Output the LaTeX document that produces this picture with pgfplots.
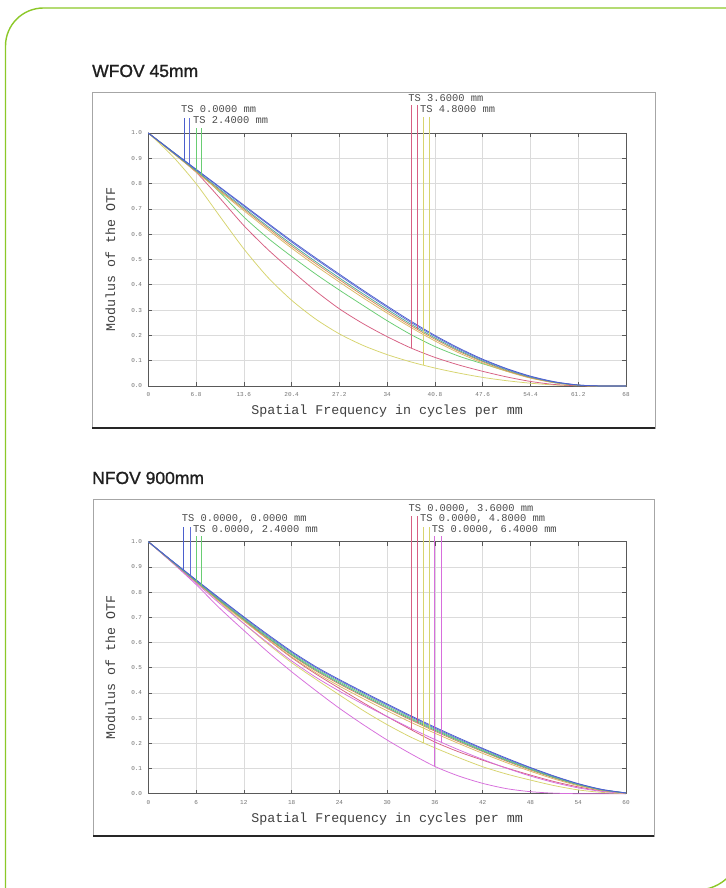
\documentclass[border=0pt]{standalone}
\usepackage{fontspec}
\setmainfont{Liberation Sans}
\setsansfont{Liberation Sans}
\setmonofont{Liberation Mono}
\newfontfamily\titlefont[FakeBold=1.1]{Liberation Sans}
\usepackage{pgfplots}
\usepackage{pgfplotstable}
\pgfplotsset{compat=1.18}

\definecolor{zblue}{RGB}{75,95,205}
\definecolor{zbluetwo}{RGB}{95,110,215}
\definecolor{zgreen}{RGB}{105,205,115}
\definecolor{zgreentwo}{RGB}{80,170,150}
\definecolor{zred}{RGB}{215,95,130}
\definecolor{zredtwo}{RGB}{215,140,90}
\definecolor{zyellow}{RGB}{215,212,110}
\definecolor{zyellowtwo}{RGB}{220,185,100}
\definecolor{zmag}{RGB}{215,110,220}
\definecolor{framegreen}{RGB}{140,200,40}

\pgfplotstableread{
x    bT    bS    gT    gS    rT    rS    yT    yS
0    1.000 1.000 1.000 1.000 1.000 1.000 1.000 1.000
3.4  0.928 0.927 0.928 0.925 0.926 0.924 0.910 0.923
6.8  0.857 0.855 0.853 0.851 0.845 0.849 0.800 0.846
10.2 0.786 0.783 0.765 0.777 0.742 0.773 0.670 0.769
13.6 0.715 0.711 0.668 0.704 0.634 0.699 0.542 0.693
17   0.644 0.640 0.585 0.631 0.540 0.625 0.430 0.618
20.4 0.574 0.569 0.512 0.560 0.456 0.553 0.339 0.545
23.8 0.507 0.502 0.443 0.492 0.376 0.485 0.265 0.476
27.2 0.442 0.437 0.379 0.427 0.305 0.420 0.206 0.411
30.6 0.378 0.373 0.318 0.364 0.246 0.357 0.160 0.348
34   0.316 0.311 0.258 0.303 0.195 0.296 0.124 0.288
37.4 0.256 0.251 0.203 0.244 0.150 0.238 0.095 0.231
40.8 0.200 0.196 0.156 0.190 0.113 0.185 0.071 0.178
44.2 0.150 0.146 0.118 0.141 0.083 0.137 0.051 0.131
47.6 0.106 0.103 0.088 0.099 0.058 0.096 0.034 0.091
51   0.069 0.067 0.059 0.064 0.036 0.061 0.021 0.058
54.4 0.039 0.037 0.033 0.035 0.018 0.033 0.011 0.031
57.8 0.017 0.016 0.013 0.015 0.006 0.014 0.004 0.013
61.2 0.004 0.004 0.003 0.003 0.001 0.003 0.001 0.003
64.6 0     0     0     0     0     0     0     0
68   0     0     0     0     0     0     0     0
}\wfov

\pgfplotstableread{
x  bT    bS    gT    gS    rT    rS    yT    yS    mT    mS
0  1.000 1.000 1.000 1.000 1.000 1.000 1.000 1.000 1.000 1.000
3  0.924 0.923 0.922 0.921 0.922 0.920 0.921 0.920 0.917 0.918
6  0.849 0.847 0.845 0.843 0.845 0.841 0.843 0.840 0.830 0.836
9  0.775 0.772 0.769 0.766 0.767 0.764 0.760 0.761 0.735 0.754
12 0.702 0.699 0.695 0.692 0.690 0.689 0.675 0.685 0.648 0.675
15 0.632 0.628 0.624 0.620 0.612 0.617 0.595 0.612 0.563 0.599
18 0.565 0.561 0.556 0.552 0.540 0.549 0.520 0.543 0.484 0.527
21 0.505 0.501 0.496 0.492 0.476 0.488 0.455 0.481 0.410 0.463
24 0.453 0.449 0.444 0.439 0.418 0.435 0.392 0.427 0.339 0.407
27 0.404 0.400 0.395 0.390 0.361 0.386 0.330 0.377 0.274 0.355
30 0.356 0.352 0.347 0.342 0.306 0.338 0.274 0.329 0.213 0.306
33 0.309 0.305 0.300 0.296 0.254 0.292 0.224 0.283 0.158 0.259
36 0.264 0.260 0.256 0.252 0.205 0.248 0.182 0.240 0.108 0.215
39 0.221 0.217 0.213 0.210 0.166 0.206 0.143 0.199 0.070 0.174
42 0.180 0.177 0.173 0.170 0.133 0.167 0.107 0.160 0.041 0.136
45 0.141 0.138 0.135 0.132 0.102 0.129 0.078 0.123 0.020 0.101
48 0.104 0.102 0.099 0.097 0.074 0.094 0.054 0.089 0.008 0.070
51 0.070 0.068 0.066 0.064 0.048 0.062 0.032 0.058 0.002 0.044
54 0.040 0.039 0.037 0.036 0.027 0.035 0.015 0.032 0.000 0.023
57 0.017 0.016 0.015 0.015 0.011 0.014 0.005 0.013 0.000 0.009
60 0.003 0.003 0.003 0.003 0.003 0.003 0.000 0.002 0.000 0.001
}\nfov

\tikzset{
  lbl/.style={anchor=base west, inner sep=0pt, font=\fontsize{10.4}{10.4}\selectfont\ttfamily, text=black!70},
}
\pgfplotsset{
  mtf/.style={
    scale only axis,
    width=477.7pt, height=253pt,
    enlargelimits=false,
    ymin=0, ymax=1,
    ytick={0,0.1,0.2,0.3,0.4,0.5,0.6,0.7,0.8,0.9,1},
    yticklabels={0.0,0.1,0.2,0.3,0.4,0.5,0.6,0.7,0.8,0.9,1.0},
    grid=major,
    major grid style={gray!28, line width=0.6pt},
    axis line style={black!65, line width=0.7pt},
    tick align=inside,
    major tick length=4pt,
    tick style={black!65, line width=0.6pt},
    ticklabel style={font=\fontsize{6}{6}\selectfont\ttfamily, text=black!55, inner sep=0pt},
    xticklabel style={yshift=-6.5pt},
    yticklabel style={xshift=-6pt},
    every axis x label/.style={at={(axis description cs:0.5,0)}, yshift=-25.5pt, anchor=center,
      font=\fontsize{13.3}{13.3}\selectfont\ttfamily, text=black!75},
    every axis y label/.style={at={(axis description cs:0,0.5)}, xshift=-38pt, rotate=90, anchor=center,
      font=\fontsize{13.3}{13.3}\selectfont\ttfamily, text=black!75},
    xlabel={Spatial Frequency in cycles per mm},
    ylabel={Modulus of the OTF},
    clip=false,
    every axis plot/.append style={line width=0.75pt, smooth, tension=0.45},
  },
  drop/.style={line width=0.95pt, sharp plot},
}

\begin{document}
\begin{tikzpicture}
\useasboundingbox (0pt,0pt) rectangle (725pt,888pt);
\fill[white] (0pt,0pt) rectangle (725pt,888pt);

% green decorative frame
\draw[framegreen, line width=1.4pt] (5.5pt,-10pt) -- (5.5pt,842pt) arc[start angle=180, end angle=90, radius=38pt] -- (740pt,880pt);
\draw[framegreen, line width=1.4pt] (697pt,-2pt) arc[start angle=-90, end angle=0, radius=44pt];

% titles
\node[anchor=base west, inner sep=0pt, font=\fontsize{17.5}{17.5}\selectfont\titlefont, text=black!88] at (92pt,811pt) {WFOV 45mm};
\node[anchor=base west, inner sep=0pt, font=\fontsize{17.5}{17.5}\selectfont\titlefont, text=black!88] at (92pt,404pt) {NFOV 900mm};

% boxes
\draw[black!35, line width=0.9pt] (92pt,460pt) rectangle (655pt,796pt);
\draw[black!85, line width=1.2pt] (92pt,460pt) -- (655pt,460pt);
\draw[black!35, line width=0.9pt] (93pt,52pt) rectangle (654pt,389pt);
\draw[black!85, line width=1.2pt] (93pt,52pt) -- (654pt,52pt);

% ---------------- WFOV ----------------
\begin{axis}[mtf, at={(148.3pt,502pt)}, anchor=south west,
  xmin=0, xmax=68,
  xtick={0,6.8,13.6,20.4,27.2,34,40.8,47.6,54.4,61.2,68},
  xticklabels={0,6.8,13.6,20.4,27.2,34,40.8,47.6,54.4,61.2,68}]
\addplot[zyellow] table[x=x,y=yT] {\wfov};
\addplot[zred] table[x=x,y=rT] {\wfov};
\addplot[zgreen] table[x=x,y=gT] {\wfov};
\addplot[zyellowtwo] table[x=x,y=yS] {\wfov};
\addplot[zredtwo] table[x=x,y=rS] {\wfov};
\addplot[zgreentwo] table[x=x,y=gS] {\wfov};
\addplot[zbluetwo] table[x=x,y=bS] {\wfov};
\addplot[zblue] table[x=x,y=bT] {\wfov};
% legend drop lines
\addplot[zblue, drop] coordinates {(5.08,0.893) (5.08,1.059)};
\addplot[zbluetwo, drop] coordinates {(5.93,0.877) (5.93,1.059)};
\addplot[zgreen, drop] coordinates {(6.79,0.852) (6.79,1.020)};
\addplot[zgreen, drop] coordinates {(7.64,0.832) (7.64,1.020)};
\addplot[zred, drop] coordinates {(37.4,0.150) (37.4,1.111)};
\addplot[zred, drop] coordinates {(38.3,0.224) (38.3,1.111)};
\addplot[zyellow, drop] coordinates {(39.1,0.084) (39.1,1.064)};
\addplot[zyellow, drop] coordinates {(40.0,0.190) (40.0,1.064)};
\node[lbl] at (axis cs:4.65,1.080) {TS 0.0000 mm};
\node[lbl] at (axis cs:6.36,1.036) {TS 2.4000 mm};
\node[lbl] at (axis cs:37.0,1.124) {TS 3.6000 mm};
\node[lbl] at (axis cs:38.68,1.080) {TS 4.8000 mm};
\end{axis}

% ---------------- NFOV ----------------
\begin{axis}[mtf, at={(148.3pt,94.3pt)}, anchor=south west, height=252pt,
  xmin=0, xmax=60,
  xtick={0,6,12,18,24,30,36,42,48,54,60},
  xticklabels={0,6,12,18,24,30,36,42,48,54,60}]
\addplot[zmag] table[x=x,y=mT] {\nfov};
\addplot[zyellow] table[x=x,y=yT] {\nfov};
\addplot[zred] table[x=x,y=rT] {\nfov};
\addplot[zmag] table[x=x,y=mS] {\nfov};
\addplot[zyellowtwo] table[x=x,y=yS] {\nfov};
\addplot[zredtwo] table[x=x,y=rS] {\nfov};
\addplot[zgreentwo] table[x=x,y=gS] {\nfov};
\addplot[zgreen] table[x=x,y=gT] {\nfov};
\addplot[zbluetwo] table[x=x,y=bS] {\nfov};
\addplot[zblue] table[x=x,y=bT] {\nfov};
\addplot[zblue, drop] coordinates {(4.48,0.887) (4.48,1.060)};
\addplot[zbluetwo, drop] coordinates {(5.24,0.866) (5.24,1.060)};
\addplot[zgreen, drop] coordinates {(5.99,0.843) (5.99,1.023)};
\addplot[zgreen, drop] coordinates {(6.74,0.826) (6.74,1.023)};
\addplot[zred, drop] coordinates {(33.0,0.254) (33.0,1.100)};
\addplot[zred, drop] coordinates {(33.8,0.280) (33.8,1.100)};
\addplot[zyellow, drop] coordinates {(34.5,0.203) (34.5,1.060)};
\addplot[zyellow, drop] coordinates {(35.3,0.251) (35.3,1.060)};
\addplot[zmag, drop] coordinates {(36.0,0.108) (36.0,1.023)};
\addplot[zmag, drop] coordinates {(36.8,0.204) (36.8,1.023)};
\node[lbl] at (axis cs:4.19,1.079) {TS 0.0000, 0.0000 mm};
\node[lbl] at (axis cs:5.61,1.038) {TS 0.0000, 2.4000 mm};
\node[lbl] at (axis cs:32.66,1.119) {TS 0.0000, 3.6000 mm};
\node[lbl] at (axis cs:34.13,1.079) {TS 0.0000, 4.8000 mm};
\node[lbl] at (axis cs:35.6,1.038) {TS 0.0000, 6.4000 mm};
\end{axis}
\end{tikzpicture}
\end{document}
